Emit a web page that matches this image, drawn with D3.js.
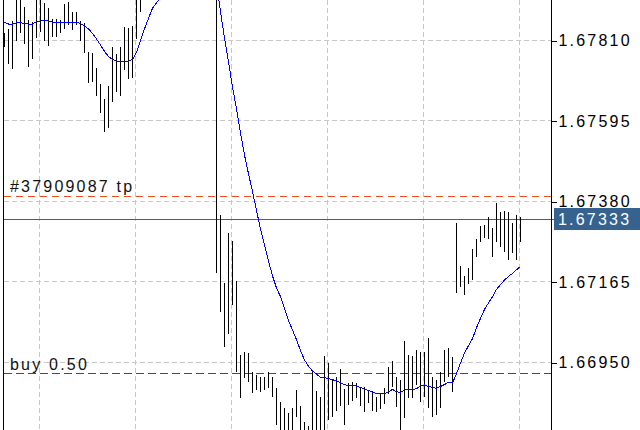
<!DOCTYPE html>
<html>
<head>
<meta charset="utf-8">
<script src="https://cdn.jsdelivr.net/npm/d3@7"></script>
<style>
    html, body { margin: 0; padding: 0; background: #fff; }
    svg { display: block; font-family: "Liberation Sans", Arial, sans-serif; }
    .grid line { stroke: #c8c8c8; stroke-dasharray: 5,3; shape-rendering: crispEdges; }
    .bar { stroke: #000; shape-rendering: crispEdges; }
    .ma { fill: none; stroke: #0000ff; stroke-width: 1; shape-rendering: crispEdges; }
    .axis--y text { font-size: 16px; letter-spacing: 2.2px; fill: #000; }
    .axis--y line { stroke: #000; shape-rendering: crispEdges; }
    .order--label { font-size: 16px; letter-spacing: 2.2px; fill: #111; }
</style>
</head>
<body>
<div id="chart"></div>
<script>
// price ticks on the right scale
var priceTicks = [1.67810, 1.67595, 1.67380, 1.67165, 1.66950];

// bars where the vertical grid falls
var gridBars = [9, 33, 57, 81, 105, 129];

var bidPrice = 1.67333;
var tpPrice = 1.67396;
var buyPrice = 1.66923;
var tpLabel = '#37909087 tp';
var buyLabel = 'buy 0.50';

// bar highs / lows (bars 35-52 are above the visible window)
var highs = [
    1.67830, 1.67841, 1.67862, 1.67932, 1.67926, 1.67899, 1.67865, 1.67859, 1.67932, 1.67923,
    1.67910, 1.67897, 1.67867, 1.67867, 1.67865, 1.67907, 1.67913, 1.67886, 1.67886, 1.67862,
    1.67857, 1.67779, 1.67776, 1.67736, 1.67694, 1.67654, 1.67688, 1.67793, 1.67774, 1.67793,
    1.67846, 1.67843, 1.67849, 1.67945, 1.67971, 1.67998, 1.68038, 1.68078, 1.68105, 1.68145,
    1.68172, 1.68185, 1.68212, 1.68225, 1.68239, 1.68233, 1.68252, 1.68239, 1.68225, 1.68239,
    1.68233, 1.68225, 1.68212, 1.68105, 1.67344, 1.67162, 1.67296, 1.67274, 1.67167, 1.66970,
    1.66978, 1.66975, 1.66925, 1.66916, 1.66911, 1.66911, 1.66925, 1.66911, 1.66882, 1.66844,
    1.66828, 1.66815, 1.66828, 1.66876, 1.66834, 1.66791, 1.66780, 1.66930, 1.66874, 1.66858,
    1.66967, 1.66949, 1.66903, 1.66911, 1.66932, 1.66879, 1.66895, 1.66898, 1.66895, 1.66882,
    1.66884, 1.66876, 1.66874, 1.66858, 1.66866, 1.66882, 1.66938, 1.66954, 1.66911, 1.66903,
    1.67007, 1.66970, 1.66967, 1.66983, 1.66978, 1.66978, 1.67015, 1.66911, 1.66903, 1.66925,
    1.66983, 1.66989, 1.66964, 1.67322, 1.67208, 1.67181, 1.67202, 1.67253, 1.67280, 1.67314,
    1.67317, 1.67338, 1.67309, 1.67376, 1.67352, 1.67354, 1.67352, 1.67322, 1.67344, 1.67338
];
var lows = [
    1.67793, 1.67747, 1.67734, 1.67808, 1.67830, 1.67800, 1.67739, 1.67760, 1.67816, 1.67832,
    1.67808, 1.67795, 1.67819, 1.67819, 1.67830, 1.67841, 1.67851, 1.67838, 1.67851, 1.67808,
    1.67776, 1.67696, 1.67699, 1.67662, 1.67616, 1.67565, 1.67576, 1.67646, 1.67672, 1.67662,
    1.67731, 1.67707, 1.67710, 1.67814, 1.67886, 1.67931, 1.67958, 1.67985, 1.68025, 1.68052,
    1.68078, 1.68105, 1.68118, 1.68145, 1.68158, 1.68153, 1.68172, 1.68158, 1.68145, 1.68164,
    1.68158, 1.68145, 1.68078, 1.67189, 1.67085, 1.66991, 1.67026, 1.67103, 1.66925, 1.66855,
    1.66908, 1.66898, 1.66868, 1.66876, 1.66871, 1.66876, 1.66882, 1.66858, 1.66783, 1.66756,
    1.66743, 1.66743, 1.66743, 1.66804, 1.66743, 1.66743, 1.66730, 1.66743, 1.66756, 1.66756,
    1.66756, 1.66796, 1.66804, 1.66820, 1.66834, 1.66783, 1.66836, 1.66847, 1.66855, 1.66834,
    1.66818, 1.66842, 1.66820, 1.66818, 1.66826, 1.66839, 1.66866, 1.66884, 1.66831, 1.66764,
    1.66802, 1.66855, 1.66855, 1.66890, 1.66844, 1.66858, 1.66828, 1.66804, 1.66810, 1.66828,
    1.66898, 1.66911, 1.66871, 1.67135, 1.67151, 1.67130, 1.67159, 1.67170, 1.67232, 1.67272,
    1.67282, 1.67280, 1.67232, 1.67272, 1.67258, 1.67245, 1.67224, 1.67242, 1.67224, 1.67272
];

// moving average, one value per bar
var maValues = [
    1.67858, 1.67854, 1.67854, 1.67857, 1.67857, 1.67856, 1.67854, 1.67854, 1.67860, 1.67862,
    1.67863, 1.67862, 1.67859, 1.67859, 1.67859, 1.67859, 1.67859, 1.67859, 1.67859, 1.67855,
    1.67849, 1.67841, 1.67829, 1.67814, 1.67798, 1.67781, 1.67767, 1.67759, 1.67755, 1.67755,
    1.67755, 1.67755, 1.67759, 1.67778, 1.67809, 1.67841, 1.67869, 1.67896, 1.67911, 1.67924,
    1.67937, 1.67950, 1.67964, 1.67977, 1.67990, 1.68004, 1.68017, 1.68030, 1.68041, 1.68049,
    1.68052, 1.68044, 1.68020, 1.67966, 1.67887, 1.67817, 1.67753, 1.67686, 1.67627, 1.67563,
    1.67504, 1.67454, 1.67407, 1.67356, 1.67307, 1.67264, 1.67221, 1.67181, 1.67149, 1.67126,
    1.67094, 1.67062, 1.67037, 1.67011, 1.66982, 1.66957, 1.66940, 1.66927, 1.66919, 1.66910,
    1.66910, 1.66907, 1.66904, 1.66901, 1.66896, 1.66891, 1.66888, 1.66888, 1.66887, 1.66883,
    1.66879, 1.66875, 1.66871, 1.66867, 1.66866, 1.66867, 1.66872, 1.66878, 1.66872, 1.66870,
    1.66877, 1.66877, 1.66877, 1.66880, 1.66888, 1.66890, 1.66886, 1.66884, 1.66881, 1.66886,
    1.66891, 1.66897, 1.66895, 1.66920, 1.66949, 1.66975, 1.66995, 1.67014, 1.67043, 1.67068,
    1.67092, 1.67109, 1.67126, 1.67145, 1.67158, 1.67170, 1.67180, 1.67188, 1.67198, 1.67206
];

var width = 640,
    height = 430,
    plot = { left: 3.5, right: 551.5 };

var svg = d3.select('#chart').append('svg')
    .attr('width', width)
    .attr('height', height);

svg.append('rect')
    .attr('width', width)
    .attr('height', height)
    .attr('fill', '#fff');

// Scales
var x = d3.scaleLinear()
    .domain([0, highs.length - 1])
    .range([4.5, 520.5]);

var y = d3.scaleLinear()
    .domain([priceTicks[4], priceTicks[0]])
    .range([362.5, 40.5]);

// Grid
var grid = svg.append('g').attr('class', 'grid');

grid.selectAll('.grid--h').data(priceTicks)
    .enter().append('line')
    .attr('x1', plot.left)
    .attr('x2', plot.right)
    .attr('y1', function (d) { return Math.round(y(d) - 0.5) + 0.5; })
    .attr('y2', function (d) { return Math.round(y(d) - 0.5) + 0.5; });

grid.selectAll('.grid--v').data(gridBars)
    .enter().append('line')
    .attr('x1', function (d) { return x(d) - 1; })
    .attr('x2', function (d) { return x(d) - 1; })
    .attr('y1', 0)
    .attr('y2', height);

// Order lines
svg.append('line')
    .attr('x1', plot.left).attr('x2', plot.right)
    .attr('y1', Math.round(y(tpPrice)) + 0.5)
    .attr('y2', Math.round(y(tpPrice)) + 0.5)
    .attr('stroke', '#e8501e')
    .attr('stroke-dasharray', '7,5')
    .attr('shape-rendering', 'crispEdges');

svg.append('line')
    .attr('x1', plot.left).attr('x2', plot.right)
    .attr('y1', Math.round(y(buyPrice)) + 0.5)
    .attr('y2', Math.round(y(buyPrice)) + 0.5)
    .attr('stroke', '#008000')
    .attr('stroke-dasharray', '8,4')
    .attr('shape-rendering', 'crispEdges');

svg.append('line')
    .attr('x1', plot.left).attr('x2', 555)
    .attr('y1', Math.round(y(bidPrice)) + 0.5)
    .attr('y2', Math.round(y(bidPrice)) + 0.5)
    .attr('stroke', '#3a6190')
    .attr('shape-rendering', 'crispEdges');

svg.append('text')
    .attr('class', 'order--label')
    .attr('x', 10)
    .attr('y', y(tpPrice) - 4)
    .text(tpLabel);

svg.append('text')
    .attr('class', 'order--label')
    .attr('x', 10)
    .attr('y', y(buyPrice) - 3)
    .text(buyLabel);

// Bars (high-low only at this zoom)
svg.append('g').selectAll('line').data(highs)
    .enter().append('line')
    .attr('class', 'bar')
    .attr('x1', function (d, i) { return x(i); })
    .attr('x2', function (d, i) { return x(i); })
    .attr('y1', function (d) { return y(d); })
    .attr('y2', function (d, i) { return y(lows[i]); });

// Moving average
var line = d3.line()
    .x(function (d, i) { return x(i); })
    .y(function (d) { return y(d); });

svg.append('path')
    .datum(maValues)
    .attr('class', 'ma')
    .attr('d', line);

// Left border
svg.append('line')
    .attr('x1', plot.left).attr('x2', plot.left)
    .attr('y1', 0).attr('y2', height)
    .attr('stroke', '#000')
    .attr('shape-rendering', 'crispEdges');

// Price axis
var axis = svg.append('g')
    .attr('class', 'axis--y')
    .attr('transform', 'translate(' + plot.right + ',0)')
    .call(d3.axisRight(y)
        .tickValues(priceTicks)
        .tickFormat(d3.format('.5f'))
        .tickSizeInner(5)
        .tickSizeOuter(0)
        .tickPadding(2));
axis.select('.domain').remove();

axis.append('line')
    .attr('x1', 0).attr('x2', 0)
    .attr('y1', 0).attr('y2', height);

// Bid label
var bidY = Math.round(y(bidPrice));
svg.append('rect')
    .attr('x', 554)
    .attr('y', bidY - 11)
    .attr('width', width - 554)
    .attr('height', 22)
    .attr('fill', '#35628f');

svg.append('text')
    .attr('class', 'order--label')
    .attr('x', 558)
    .attr('y', bidY + 6)
    .attr('fill', '#fff')
    .style('fill', '#fff')
    .text(d3.format('.5f')(bidPrice));
</script>
</body>
</html>
